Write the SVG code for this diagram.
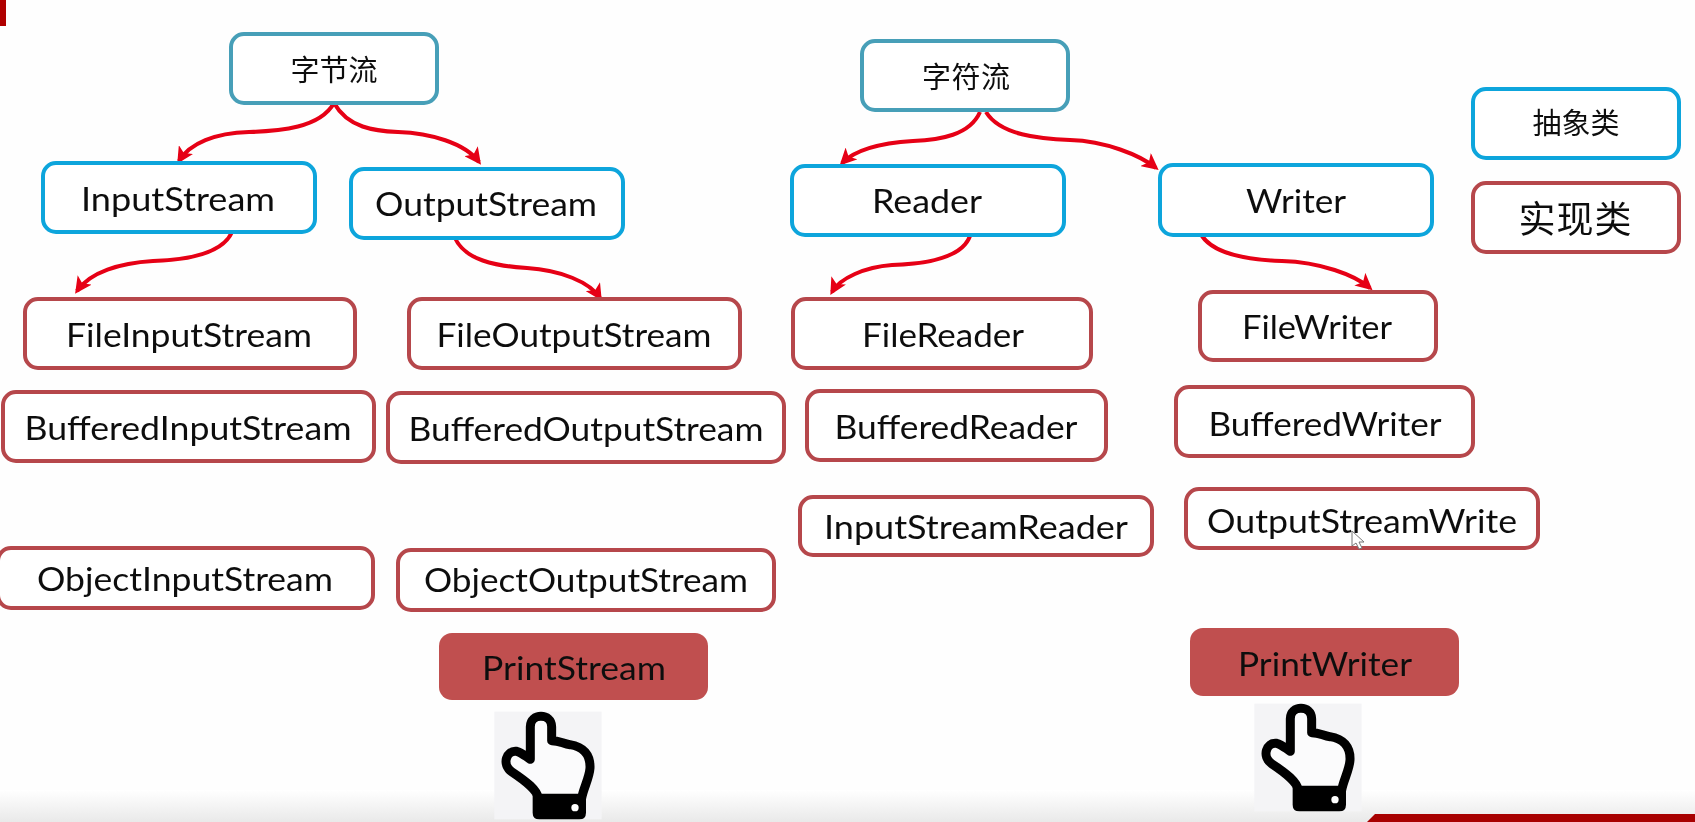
<svg xmlns="http://www.w3.org/2000/svg" width="1695" height="822" viewBox="0 0 1695 822">
<style>
.box{fill:#fff;stroke-width:4}
.abs{stroke:#0ea5dc}
.root{stroke:#479fb8}
.impl{stroke:#b6474b}
.fill{fill:#c0504f;stroke:none}
text{font-family:"Lato","Noto Sans CJK SC",sans-serif;font-size:33px;fill:#111;text-anchor:middle}
text.cjk{font-family:"Noto Sans CJK SC",sans-serif;font-size:29px}
.link{fill:none;stroke:#e60012;stroke-width:4;marker-end:url(#arrow)}
</style>
<defs>
<filter id="soft" x="0" y="0" width="1" height="1" filterUnits="objectBoundingBox"><feGaussianBlur stdDeviation="0.6"/></filter>
<linearGradient id="fade" x1="0" y1="0" x2="0" y2="1"><stop offset="0" stop-color="#fff"/><stop offset="1" stop-color="#e9e9e9"/></linearGradient>
<marker id="arrow" viewBox="0 0 10 10" refX="8" refY="5" markerWidth="4.2" markerHeight="4.2" orient="auto"><path d="M0 0L10 5L0 10L2.5 5Z" fill="#e60012"/></marker>
<g id="hand" transform="translate(400 620) scale(.3333)">
<rect x="283" y="275" width="322" height="323" fill="#f4f4f6"/>
<path d="M391 418V320C391 278 455 278 455 320V362C480 362 490 372 510 374C550 380 572 405 570 445C568 475 550 505 545 535H415C412 510 380 485 335 455C305 435 318 390 350 394C365 398 378 410 391 418Z" fill="#fbfbfc" stroke="#000" stroke-width="27" stroke-linejoin="round"/>
<path d="M398 525H558V578Q558 598 538 598H418Q398 598 398 578Z"/>
<circle cx="525" cy="563" r="11" fill="#fff"/>
</g>
</defs>
<g filter="url(#soft)">
<rect width="1695" height="822" fill="#fefefe"/>
<rect y="790" width="1695" height="32" fill="url(#fade)"/>
<rect width="6" height="26" fill="#b00000"/>
<path d="M1375 814H1695V822H1367Z" fill="#a80000"/>
<g id="connectors">
<path class="link" d="M334 103C320 128 280 131 249 132C215 133 190 143 179 161"/>
<path class="link" d="M334 103C348 128 375 131 398 132C430 133 465 143 479 162"/>
<path class="link" d="M232 232C222 255 185 260 153 261C120 263 90 272 77 291"/>
<path class="link" d="M455 238C465 260 495 266 527 268C560 270 590 282 600 298"/>
<path class="link" d="M980 112C970 135 940 140 913 141C880 143 855 150 842 163"/>
<path class="link" d="M986 112C1000 135 1040 139 1070 140C1105 141 1140 155 1156 168"/>
<path class="link" d="M970 236C962 258 925 264 892 265C865 267 840 278 832 292"/>
<path class="link" d="M1202 236C1215 255 1250 260 1282 261C1320 262 1355 275 1370 288"/>
</g>
<g id="n-bytes"><rect class="box root" x="231" y="34" width="206" height="69" rx="13"/><text class="cjk" x="334" y="81" textLength="87">字节流</text></g>
<g id="n-chars"><rect class="box root" x="862" y="41" width="206" height="69" rx="13"/><text class="cjk" x="966" y="88" textLength="88">字符流</text></g>
<g id="n-inputstream"><rect class="box abs" x="43" y="163" width="272" height="69" rx="13"/><text x="178" y="211" textLength="194" lengthAdjust="spacingAndGlyphs">InputStream</text></g>
<g id="n-outputstream"><rect class="box abs" x="351" y="169" width="272" height="69" rx="13"/><text x="486" y="216" textLength="222" lengthAdjust="spacingAndGlyphs">OutputStream</text></g>
<g id="n-reader"><rect class="box abs" x="792" y="166" width="272" height="69" rx="13"/><text x="927" y="213" textLength="110" lengthAdjust="spacingAndGlyphs">Reader</text></g>
<g id="n-writer"><rect class="box abs" x="1160" y="165" width="272" height="70" rx="13"/><text x="1296" y="213" textLength="100" lengthAdjust="spacingAndGlyphs">Writer</text></g>
<g id="n-abstract"><rect class="box abs" x="1473" y="89" width="206" height="69" rx="13"/><text class="cjk" x="1576" y="134" textLength="87">抽象类</text></g>
<g id="n-impl"><rect class="box impl" x="1473" y="183" width="206" height="69" rx="13"/><text class="cjk" x="1575" y="233" textLength="113" style="font-size:37px">实现类</text></g>
<g id="n-fileinputstream"><rect class="box impl" x="25" y="299" width="330" height="69" rx="13"/><text x="189" y="347" textLength="246" lengthAdjust="spacingAndGlyphs">FileInputStream</text></g>
<g id="n-fileoutputstream"><rect class="box impl" x="409" y="299" width="331" height="69" rx="13"/><text x="574" y="347" textLength="275" lengthAdjust="spacingAndGlyphs">FileOutputStream</text></g>
<g id="n-bufferedinputstream"><rect class="box impl" x="3" y="392" width="371" height="69" rx="13"/><text x="188" y="440" textLength="327" lengthAdjust="spacingAndGlyphs">BufferedInputStream</text></g>
<g id="n-bufferedoutputstream"><rect class="box impl" x="388" y="393" width="396" height="69" rx="13"/><text x="586" y="441" textLength="355" lengthAdjust="spacingAndGlyphs">BufferedOutputStream</text></g>
<g id="n-objectinputstream"><rect class="box impl" x="-2" y="548" width="375" height="60" rx="13"/><text x="185" y="591" textLength="296" lengthAdjust="spacingAndGlyphs">ObjectInputStream</text></g>
<g id="n-objectoutputstream"><rect class="box impl" x="398" y="550" width="376" height="60" rx="13"/><text x="586" y="592" textLength="324" lengthAdjust="spacingAndGlyphs">ObjectOutputStream</text></g>
<g id="n-printstream"><rect class="fill" x="439" y="633" width="269" height="67" rx="13"/><text x="574" y="680" textLength="184" lengthAdjust="spacingAndGlyphs">PrintStream</text></g>
<g id="n-filereader"><rect class="box impl" x="793" y="299" width="298" height="69" rx="13"/><text x="943" y="347" textLength="162" lengthAdjust="spacingAndGlyphs">FileReader</text></g>
<g id="n-bufferedreader"><rect class="box impl" x="807" y="391" width="299" height="69" rx="13"/><text x="956" y="439" textLength="243" lengthAdjust="spacingAndGlyphs">BufferedReader</text></g>
<g id="n-inputstreamreader"><rect class="box impl" x="800" y="497" width="352" height="58" rx="13"/><text x="976" y="539" textLength="304" lengthAdjust="spacingAndGlyphs">InputStreamReader</text></g>
<g id="n-filewriter"><rect class="box impl" x="1200" y="292" width="236" height="68" rx="13"/><text x="1317" y="339" textLength="150" lengthAdjust="spacingAndGlyphs">FileWriter</text></g>
<g id="n-bufferedwriter"><rect class="box impl" x="1176" y="387" width="297" height="69" rx="13"/><text x="1325" y="436" textLength="233" lengthAdjust="spacingAndGlyphs">BufferedWriter</text></g>
<g id="n-outputstreamwrite"><rect class="box impl" x="1186" y="489" width="352" height="59" rx="13"/><text x="1362" y="533" textLength="310" lengthAdjust="spacingAndGlyphs">OutputStreamWrite</text></g>
<g id="n-printwriter"><rect class="fill" x="1190" y="628" width="269" height="68" rx="13"/><text x="1325" y="676" textLength="174" lengthAdjust="spacingAndGlyphs">PrintWriter</text></g>
<use id="hand-left" href="#hand"/>
<use id="hand-right" href="#hand" x="760" y="-8"/>
<path id="cursor" d="M1352 531V546L1356 543L1359 549L1362 548L1359 542L1364 542Z" fill="#fff" stroke="#777" stroke-width="1"/>
</g>
</svg>
